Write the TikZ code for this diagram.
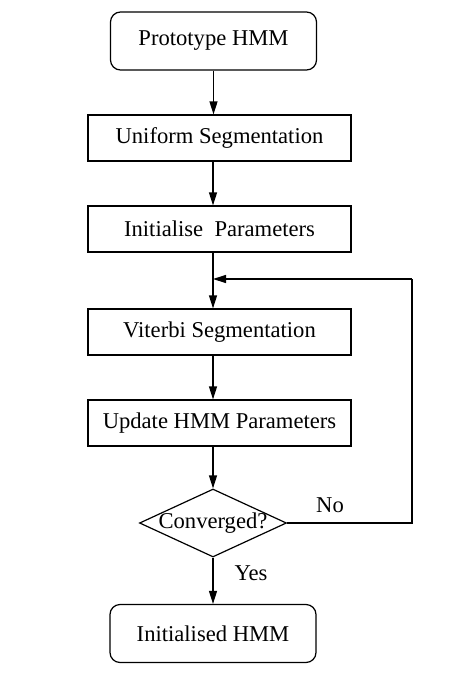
\documentclass[tikz,border=0pt]{standalone}
\usepackage{fontspec}
\setmainfont{Liberation Serif}
\usetikzlibrary{arrows.meta,positioning,shapes.geometric}

\begin{document}
\begin{tikzpicture}[x=0.5pt,y=-0.5pt,
  font=\fontsize{11.3}{13}\selectfont,
  termbox/.style={draw,line width=0.6pt,rounded corners=5pt,minimum width=103pt,minimum height=29pt},
  procbox/.style={draw,line width=0.6pt,minimum width=131.5pt,minimum height=23pt},
  decision/.style={draw,line width=0.6pt,diamond,inner sep=0pt,minimum width=73.5pt,minimum height=34pt},
  flow/.style={line width=0.6pt,-{Triangle[length=6.5pt,width=4pt]}}]
  \useasboundingbox (0,0) rectangle (467,680);

  % Boxes
  \node[termbox] (proto) at (213.5,41) {Prototype HMM};
  \node[procbox] (unif) at (219.5,138) {Uniform Segmentation};
  \node[procbox] (init) at (219.5,229) {Initialise\ \ Parameters};
  \node[procbox] (vit) at (219.5,332) {Viterbi Segmentation};
  \node[procbox] (upd) at (219.5,423) {Update HMM Parameters};
  \node[decision] (conv) at (213,523) {\makebox[0pt]{\raisebox{-2pt}{Converged?}}};
  \node[termbox] (final) at (213,633.5) {Initialised HMM};

  % Loop points
  \coordinate (join) at (213,279);
  \coordinate (back) at (412,279);

  % Main flow
  \draw[flow] (proto.south) -- (proto.south |- unif.north);
  \draw[flow] (unif.south -| join) -- (join |- init.north);
  \draw[line width=0.6pt] (init.south -| join) -- (join);
  \draw[flow] (join) -- (join |- vit.north);
  \draw[flow] (vit.south -| join) -- (join |- upd.north);
  \draw[flow] (upd.south -| join) -- (conv.north);
  \draw[flow] (conv.south) -- (final.north);

  % Back loop
  \draw[line width=0.6pt] (conv.east) -| (back);
  \draw[flow] (back) -- (join);

  \node (no) at (330,505) {No};
  \node (yes) at (251,573) {Yes};
\end{tikzpicture}
\end{document}
